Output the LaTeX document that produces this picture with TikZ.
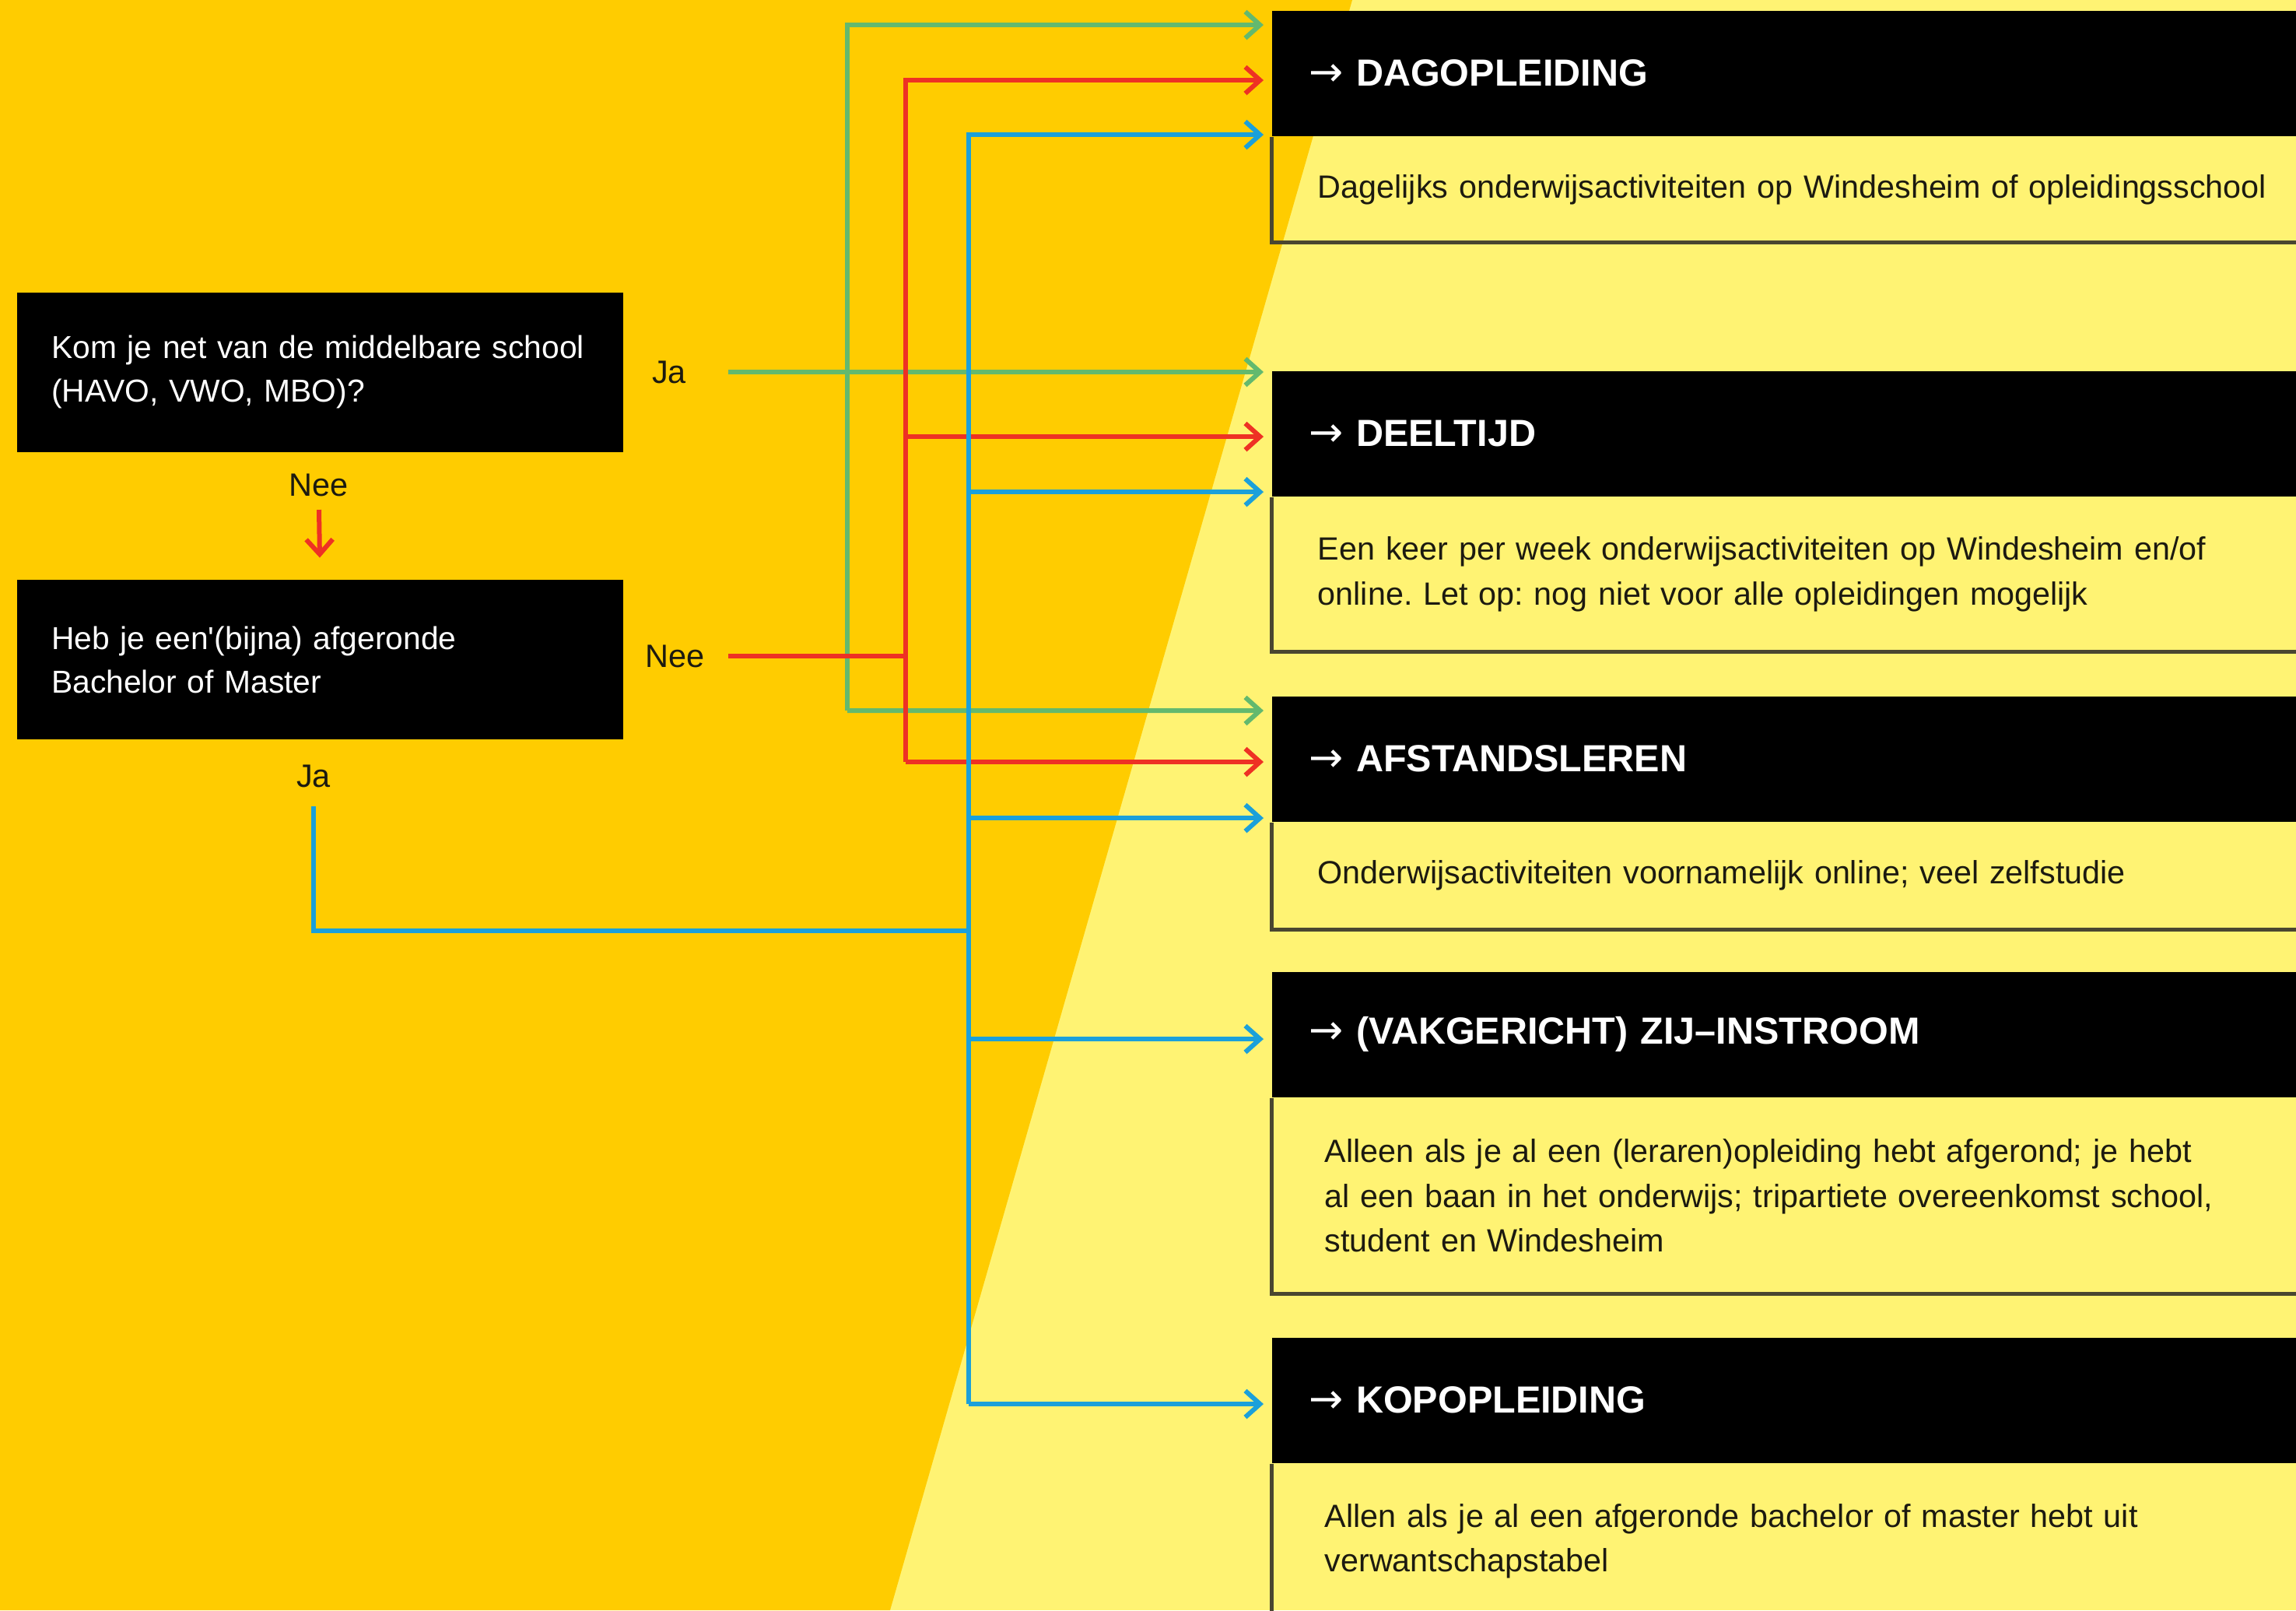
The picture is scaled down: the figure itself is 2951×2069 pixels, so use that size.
\documentclass[tikz,border=0pt]{standalone}
\usepackage{fontspec}
\setmainfont{Liberation Sans}
\newfontfamily\arrowfont{DejaVu Sans}
\usetikzlibrary{arrows.meta}
\usetikzlibrary{positioning}

\definecolor{wgold}{HTML}{FFCC00}
\definecolor{wlight}{HTML}{FFF373}
\definecolor{wgreen}{HTML}{63B96E}
\definecolor{wred}{HTML}{EE3124}
\definecolor{wblue}{HTML}{1BA0DA}
\definecolor{wrim}{HTML}{4A4630}
\definecolor{wink}{HTML}{1C1A10}

\tikzset{
  question/.style={fill=black, text=white, anchor=north west, align=left,
                   text width=6.9cm, inner xsep=0.445cm, minimum height=2.05cm,
                   font=\fontsize{11.6}{15.9}\selectfont},
  answer/.style={text=wink, inner sep=0pt, font=\fontsize{11.8}{14}\selectfont},
  route/.style={fill=black, text=white, anchor=north west, align=left,
                text width=12.5cm, inner xsep=0.48cm, minimum height=1.61cm,
                font=\bfseries\fontsize{13.8}{16}\selectfont},
  info/.style={anchor=north west, align=left, text=wink,
               text width=12.5cm, inner xsep=0.59cm,
               font=\fontsize{11.75}{16.3}\selectfont},
  rim/.style={draw=wrim, line width=0.05cm},
  flow/.style={line width=0.06cm, shorten >=0.1cm},
  gflow/.style={flow, draw=wgreen},
  rflow/.style={flow, draw=wred},
  bflow/.style={flow, draw=wblue}
}
\newcommand{\routearrow}{{\mdseries\arrowfont\fontsize{15}{16}\selectfont →}\ }
\frenchspacing

\begin{document}
\begin{tikzpicture}[x=0.01cm, y=-0.01cm, >={Straight Barb[length=0.19cm, width=0.34cm]}]
\useasboundingbox (0,0) rectangle (2951,2069);

% background
\fill[wlight] (0,0) rectangle (2951,2069);
\fill[wgold] (0,0) -- (1738,0) -- (1144,2069) -- (0,2069) -- cycle;

% questions
\node[question] (q1) at (21,375) {Kom je net van de middelbare school\\(HAVO, VWO, MBO)?};
\node[question, below=1.63cm of q1] (q2) {Heb je een\textquotesingle(bijna) afgeronde\\Bachelor of Master};

\node[answer] (ja1) at (860,478) {Ja};
\node[answer] (nee1) at (410,623) {Nee};
\node[answer] (nee2) at (868,843) {Nee};
\node[answer] (ja2) at (403,997) {Ja};

% routes
\node[route] (h1) at (1634,13) {\routearrow DAGOPLEIDING};
\node[info, minimum height=1.35cm] (b1) at (h1.south west)
  {Dagelijks onderwijsactiviteiten op Windesheim of opleidingsschool};

\node[route] (h2) at (1634,476) {\routearrow DEELTIJD};
\node[info, minimum height=1.97cm] (b2) at (h2.south west)
  {Een keer per week onderwijsactiviteiten op Windesheim en/of\\online. Let op: nog niet voor alle opleidingen mogelijk};

\node[route] (h3) at (1634,894) {\routearrow AFSTANDSLEREN};
\node[info, minimum height=1.36cm] (b3) at (h3.south west)
  {Onderwijsactiviteiten voornamelijk online; veel zelfstudie};

\node[route] (h4) at (1634,1248) {\routearrow (VAKGERICHT) ZIJ--INSTROOM};
\node[info, inner xsep=0.68cm, minimum height=2.5cm] (b4) at (h4.south west)
  {Alleen als je al een (leraren)opleiding hebt afgerond; je hebt\\al een baan in het onderwijs; tripartiete overeenkomst school,\\student en Windesheim};

\node[route] (h5) at (1634,1718) {\routearrow KOPOPLEIDING};
\node[info, inner xsep=0.68cm, minimum height=1.98cm] (b5) at (h5.south west)
  {Allen als je al een afgeronde bachelor of master hebt uit\\verwantschapstabel};

\foreach \b in {b1,b2,b3,b4,b5}
  \draw[rim] (\b.north west) |- (\b.south east);

% forks
\coordinate (gfork) at (1089,913);
\coordinate (rfork) at (1164,979);
\coordinate (bfork) at (1245,1804);
\coordinate (bjoin) at (1245,1196);

% green: ja
\draw[gflow, ->] ([xshift=0.76cm]ja1.center) -- (h2.west |- ja1.center);
\draw[gflow, ->] (gfork) |- ([yshift=-0.19cm]h1.north west);
\draw[gflow, ->] (gfork) -- ([yshift=-0.19cm]h3.north west);

% red: nee
\draw[rflow, ->, shorten >=0.28cm] ([yshift=-0.32cm]nee1.center) -- (q2.north);
\draw[rflow, shorten >=0pt] ([xshift=0.68cm]nee2.center) -- (rfork |- nee2.center);
\draw[rflow, ->] (rfork) |- ([yshift=-0.9cm]h1.north west);
\draw[rflow, ->] (rfork) |- ([yshift=-0.85cm]h2.north west);
\draw[rflow, ->] (rfork) -- (h3.west |- rfork);

% blue: ja
\draw[bflow, shorten >=0pt] ([yshift=-0.39cm]ja2.center) |- (bjoin);
\foreach \h/\dy in {h1/1.6, h2/1.56, h3/1.57, h4/0.87}
  \draw[bflow, ->] (bfork) |- ([yshift=-\dy cm]\h.north west);
\draw[bflow, ->] (bfork) -- (h5.west |- bfork);

\end{tikzpicture}
\end{document}
